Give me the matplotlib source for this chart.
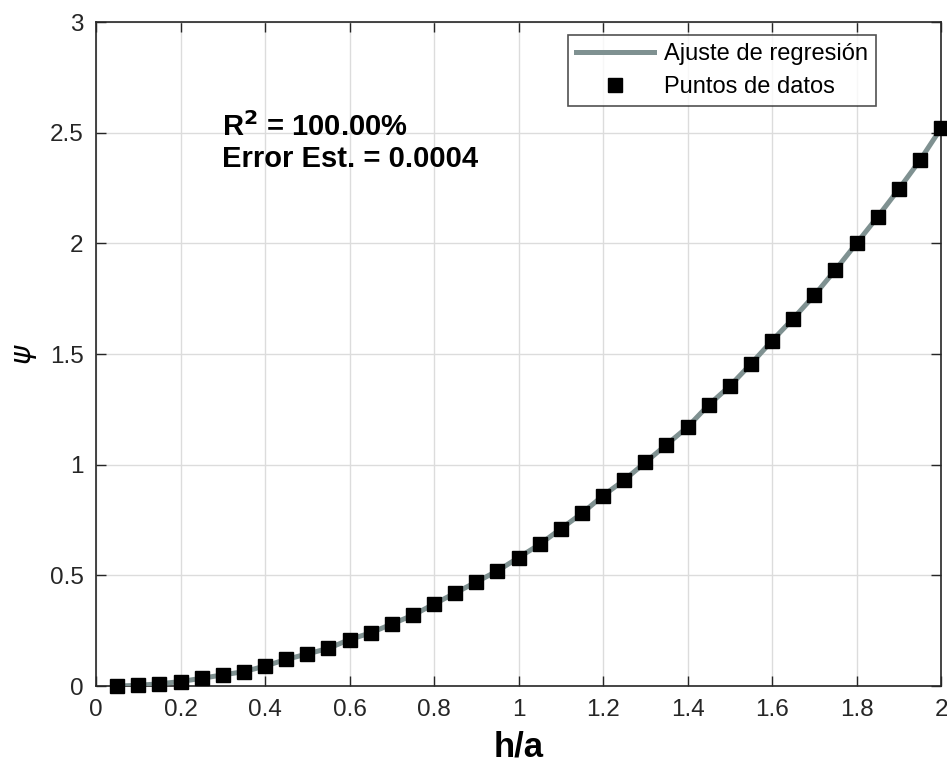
import numpy as np
import matplotlib
matplotlib.use("Agg")
import matplotlib.pyplot as plt

# h/a values and psi
h_a = [0.05, 0.10, 0.15, 0.20, 0.25, 0.30, 0.35, 0.40, 0.45, 0.50,
       0.55, 0.60, 0.65, 0.70, 0.75, 0.80, 0.85, 0.90, 0.95, 1.00,
       1.05, 1.10, 1.15, 1.20, 1.25, 1.30, 1.35, 1.40, 1.45, 1.50,
       1.55, 1.60, 1.65, 1.70, 1.75, 1.80, 1.85, 1.90, 1.95, 2.00]
psi = [0.000, 0.003, 0.010, 0.020, 0.035, 0.050, 0.065, 0.090, 0.120, 0.145,
       0.170, 0.210, 0.240, 0.280, 0.320, 0.370, 0.420, 0.470, 0.520, 0.580,
       0.640, 0.710, 0.780, 0.860, 0.930, 1.010, 1.090, 1.170, 1.270, 1.355,
       1.455, 1.560, 1.660, 1.765, 1.880, 2.000, 2.120, 2.245, 2.375, 2.520]

xticks = [0, 0.2, 0.4, 0.6, 0.8, 1, 1.2, 1.4, 1.6, 1.8, 2]
xtick_labels = ["0", "0.2", "0.4", "0.6", "0.8", "1", "1.2", "1.4", "1.6", "1.8", "2"]
yticks = [0, 0.5, 1, 1.5, 2, 2.5, 3]
ytick_labels = ["0", "0.5", "1", "1.5", "2", "2.5", "3"]

plt.rcParams["font.family"] = ["Liberation Sans", "DejaVu Sans"]

fig = plt.figure(figsize=(9.47, 7.67), dpi=100)
ax = fig.add_axes([0.1014, 0.1056, 0.8923, 0.8657])

ax.plot(h_a, psi, color="#7f9191", linewidth=3.6, label="Ajuste de regresión", zorder=3)
ax.plot(h_a, psi, linestyle="none", marker="s", markersize=9.5, color="black",
        label="Puntos de datos", zorder=4, clip_on=False)

ax.set_xlim(0, 2)
ax.set_ylim(0, 3)
ax.set_xticks(xticks)
ax.set_xticklabels(xtick_labels)
ax.set_yticks(yticks)
ax.set_yticklabels(ytick_labels)
ax.tick_params(direction="in", top=True, right=True, labelsize=17.5, length=7, width=1, pad=9, colors="#262626")
ax.grid(True, color="#dcdcdc", linewidth=1)
ax.set_axisbelow(True)
for s in ax.spines.values():
    s.set_color("#262626")
    s.set_linewidth(1.2)

ax.set_xlabel("h/a", fontsize=25, fontweight="bold", labelpad=7)
ax.set_ylabel(r"$\psi$", fontsize=21, labelpad=8)

ax.text(0.298, 2.525, "R$^\\mathbf{2}$ = 100.00%", fontsize=21, fontweight="bold",
        va="center")
ax.text(0.298, 2.38, "Error Est. = 0.0004", fontsize=21, fontweight="bold",
        va="center")

leg = ax.legend(loc="upper right", bbox_to_anchor=(0.923, 0.9805), borderaxespad=0,
                frameon=True, fancybox=False, edgecolor="#262626", handlelength=3.3,
                borderpad=0.35, labelspacing=0.45, handletextpad=0.4,
                prop={"size": 17})
leg.get_frame().set_linewidth(1.2)

fig.savefig("out.png", dpi=100)
